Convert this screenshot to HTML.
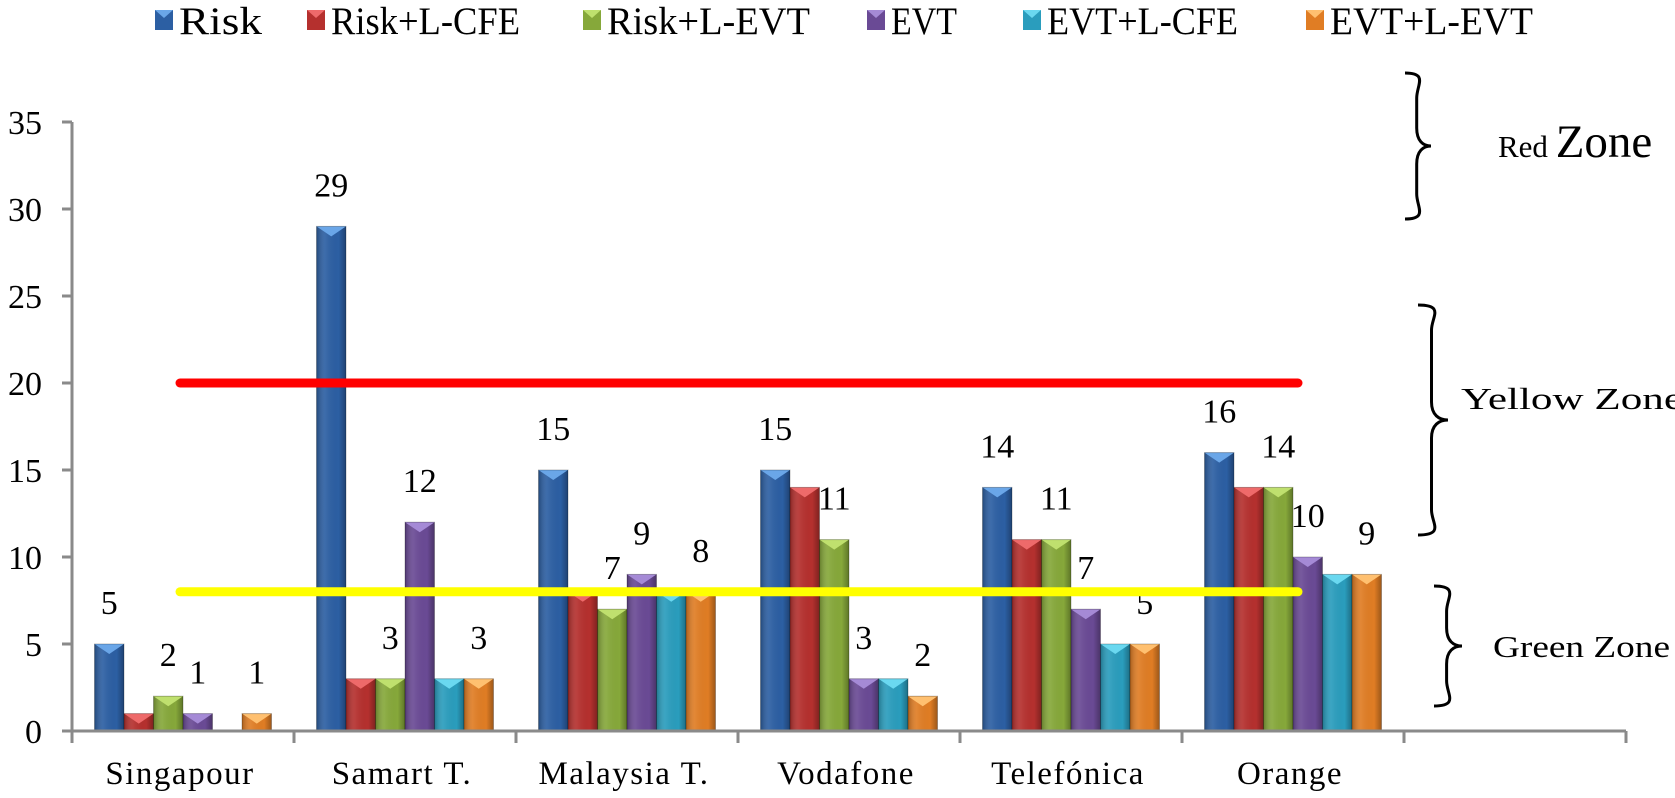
<!DOCTYPE html>
<html><head><meta charset="utf-8"><style>
html,body{margin:0;padding:0;background:#fff;}
svg{display:block;font-family:"Liberation Serif",serif;}
</style></head><body>
<svg id="chart" width="1675" height="798" viewBox="0 0 1675 798" xmlns="http://www.w3.org/2000/svg">
<defs>
<linearGradient id="gshade" x1="0" x2="1" y1="0" y2="0">
<stop offset="0" stop-color="#000" stop-opacity="0.25"/>
<stop offset="0.3" stop-color="#fff" stop-opacity="0.08"/>
<stop offset="0.75" stop-color="#000" stop-opacity="0"/>
<stop offset="1" stop-color="#000" stop-opacity="0.3"/>
</linearGradient>
</defs>
<g id="legend"></g>
<g id="bars"></g>
<g id="axes"></g>
<g id="zones"></g>
</svg>
<script>
const categories = ["Singapour","Samart T.","Malaysia T.","Vodafone","Telefónica","Orange"];
const seriesNames = ["Risk","Risk+L-CFE","Risk+L-EVT","EVT","EVT+L-CFE","EVT+L-EVT"];
const riskVals = [5,29,15,15,14,16];
const riskLcfeVals = [1,3,8,14,11,14];
const riskLevtVals = [2,3,7,11,11,14];
const evtVals = [1,12,9,3,7,10];
const evtLcfeVals = [0,3,8,3,5,9];
const evtLevtVals = [1,3,8,2,5,9];
const labeledSeries = [0,2,3,5];
const yTicks = [0,5,10,15,20,25,30,35];
const redThreshold = 20;
const yellowThreshold = 8;

const series = [riskVals,riskLcfeVals,riskLevtVals,evtVals,evtLcfeVals,evtLevtVals];
const colors = ["#2c5fa3","#b5302e","#86a83a","#6a4a95","#2a9dbd","#e07d24"];
const caps = ["#6aa6e8","#ee6a6a","#bfe06e","#a58ad6","#6ad8f0","#ffc070"];
const NS = "http://www.w3.org/2000/svg";
const X0 = 72, CW = 222, Y0 = 731, Y35 = 122, BW = 29.5, GOFF = 22.5;
function y(v){ return Y0 - v*(Y0-Y35)/35; }
function xBar(c,s){ return X0 + c*CW + GOFF + s*BW; }
function mk(tag, attrs, parent, text){
  const e = document.createElementNS(NS, tag);
  for (const k in attrs) e.setAttribute(k, attrs[k]);
  if (text !== undefined) e.textContent = text;
  parent.appendChild(e); return e;
}
const bars = document.getElementById('bars');
const axes = document.getElementById('axes');
const zones = document.getElementById('zones');
const legend = document.getElementById('legend');

// legend
const legX = [155,307,583,867,1023,1306];
const legW = [83,189,203,66,191,203];
seriesNames.forEach((n,i)=>{
  const r = mk('rect',{x:legX[i],y:10,width:18,height:20,fill:colors[i]},legend);
  
  
  mk('polygon',{points:`${legX[i]},10 ${legX[i]+18},10 ${legX[i]+9},18`,fill:caps[i]},legend);
  const t = mk('text',{x:legX[i]+24,y:34,'font-size':39,fill:'#000',textLength:legW[i],lengthAdjust:'spacingAndGlyphs'},legend,n);
  
  
});

// bars
series.forEach((vals,s)=>{
  vals.forEach((v,c)=>{
    if (v<=0) return;
    const x = xBar(c,s), top = y(v), h = Y0 - top;
    const g = mk('g',{},bars);
    
    
    mk('rect',{x:x,y:top,width:BW,height:h,fill:colors[s]},g);
    mk('rect',{x:x,y:top,width:BW,height:h,fill:'url(#gshade)'},g);
    mk('polygon',{points:`${x},${top} ${x+BW},${top} ${x+BW/2},${top+Math.min(10,h)}`,fill:caps[s]},g);
    mk('rect',{x:x,y:top,width:BW,height:h,fill:'none',stroke:'rgba(0,0,0,0.25)','stroke-width':1},g);
    if (labeledSeries.includes(s)){
      const t = mk('text',{x:x+BW/2,y:top-30,'font-size':34,'text-anchor':'middle',fill:'#000'},bars,String(v));
      
      
    }
  });
});

// axes
const ya = mk('line',{x1:X0,y1:Y35,x2:X0,y2:Y0+10,stroke:'#8a8a8a','stroke-width':3},axes);


yTicks.forEach(v=>{
  mk('line',{x1:X0-10,y1:y(v),x2:X0,y2:y(v),stroke:'#8a8a8a','stroke-width':3},axes);
  const t = mk('text',{x:42,y:y(v)+12,'font-size':34,'text-anchor':'end',fill:'#000'},axes,String(v));
  
  
});
const xa = mk('line',{x1:X0-10,y1:Y0,x2:X0+7*CW,y2:Y0,stroke:'#8a8a8a','stroke-width':3},axes);


for (let i=0;i<=7;i++){
  mk('line',{x1:X0+i*CW,y1:Y0,x2:X0+i*CW,y2:Y0+12,stroke:'#8a8a8a','stroke-width':3},axes);
}
categories.forEach((c,i)=>{
  const t = mk('text',{x:X0+i*CW+CW/2-3,y:784,'font-size':33,'letter-spacing':1.5,'text-anchor':'middle',fill:'#000'},axes,c);
  
  
});

// threshold lines
const rl = mk('line',{x1:180,y1:y(redThreshold),x2:1298,y2:y(redThreshold),stroke:'#ff0000','stroke-width':9,'stroke-linecap':'round'},zones);


const yl = mk('line',{x1:180,y1:y(yellowThreshold),x2:1298,y2:y(yellowThreshold),stroke:'#ffff00','stroke-width':9,'stroke-linecap':'round'},zones);



// braces
function brace(x, y1, y2, w){
  const m = (y1+y2)/2;
  return `M${x},${y1} C${x+w*0.9},${y1} ${x+w*0.45},${y1+12} ${x+w*0.45},${y1+25} L${x+w*0.45},${m-18} C${x+w*0.45},${m-5} ${x+w*0.7},${m} ${x+w},${m} C${x+w*0.7},${m} ${x+w*0.45},${m+5} ${x+w*0.45},${m+18} L${x+w*0.45},${y2-25} C${x+w*0.45},${y2-12} ${x+w*0.9},${y2} ${x},${y2}`;
}
const br = [[1405,73,219,26],[1418,305,535,30],[1434,586,706,28]];
const bn = ['red-zone-brace','yellow-zone-brace','green-zone-brace'];
br.forEach((b,i)=>{
  const p = mk('path',{d:brace(b[0],b[1],b[2],b[3]),fill:'none',stroke:'#000','stroke-width':3},zones);
  
  
});
const rz = mk('text',{x:1498,y:157,fill:'#000'},zones);


mk('tspan',{'font-size':31},rz,'Red ');
mk('tspan',{'font-size':47},rz,'Zone');
const yz = mk('text',{x:1461,y:409,'font-size':31,fill:'#000',textLength:222,lengthAdjust:'spacingAndGlyphs'},zones,'Yellow Zone');


const gz = mk('text',{x:1493,y:657,'font-size':31,fill:'#000',textLength:177,lengthAdjust:'spacingAndGlyphs'},zones,'Green Zone');


</script>
</body></html>
